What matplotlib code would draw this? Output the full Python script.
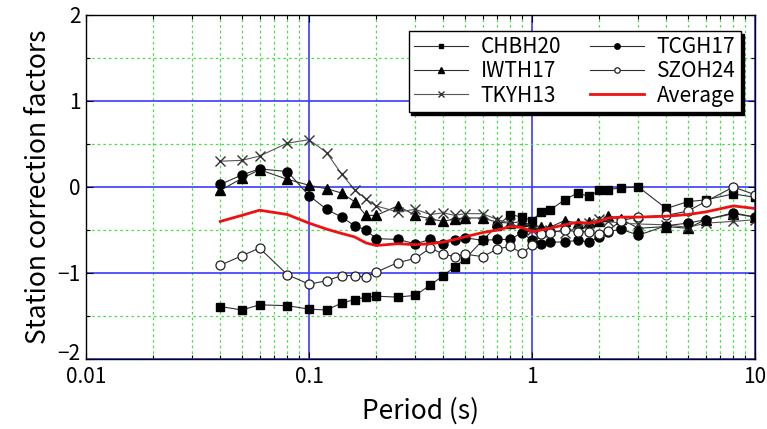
import matplotlib
matplotlib.use("Agg")
import matplotlib.pyplot as plt
import matplotlib.transforms as mtransforms
from matplotlib.ticker import LogLocator, MultipleLocator, FixedLocator, NullFormatter

plt.rcParams['font.family'] = ['Noto Sans CJK JP', 'DejaVu Sans']

periods = [0.04, 0.05, 0.06, 0.08, 0.1, 0.12, 0.14, 0.16, 0.18, 0.2,
           0.25, 0.3, 0.35, 0.4, 0.45, 0.5, 0.6, 0.7, 0.8, 0.9,
           1.0, 1.1, 1.2, 1.4, 1.6, 1.8, 2.0, 2.2, 2.5, 3.0,
           4.0, 5.0, 6.0, 8.0, 10.0]

chbh20 = [-1.39, -1.43, -1.37, -1.38, -1.42, -1.43, -1.35, -1.31, -1.28, -1.27,
          -1.28, -1.26, -1.14, -1.03, -0.93, -0.84, -0.62, -0.45, -0.32, -0.35,
          -0.39, -0.29, -0.27, -0.15, -0.07, -0.11, -0.04, -0.03, -0.01, 0.0,
          -0.25, -0.17, -0.15, -0.08, -0.12]
tcgh17 = [0.03, 0.14, 0.21, 0.18, -0.10, -0.26, -0.35, -0.45, -0.50, -0.60,
          -0.61, -0.66, -0.61, -0.66, -0.62, -0.59, -0.62, -0.61, -0.61, -0.53,
          -0.62, -0.66, -0.64, -0.64, -0.62, -0.64, -0.58, -0.52, -0.49, -0.56,
          -0.45, -0.42, -0.38, -0.30, -0.35]
iwth17 = [-0.04, 0.10, 0.20, 0.09, 0.02, -0.02, -0.07, -0.17, -0.33, -0.33,
          -0.22, -0.33, -0.37, -0.40, -0.37, -0.36, -0.36, -0.41, -0.42, -0.40,
          -0.45, -0.46, -0.47, -0.39, -0.42, -0.41, -0.40, -0.34, -0.37, -0.48,
          -0.46, -0.48, -0.38, -0.31, -0.35]
szoh24 = [-0.91, -0.80, -0.71, -1.02, -1.13, -1.09, -1.03, -1.03, -1.05, -0.99,
          -0.88, -0.83, -0.71, -0.78, -0.81, -0.78, -0.81, -0.72, -0.69, -0.77,
          -0.68, -0.55, -0.53, -0.50, -0.52, -0.52, -0.55, -0.51, -0.39, -0.35,
          -0.33, -0.28, -0.17, 0.0, -0.09]
tkyh13 = [0.30, 0.31, 0.36, 0.51, 0.55, 0.40, 0.15, -0.03, -0.14, -0.22,
          -0.29, -0.26, -0.32, -0.30, -0.33, -0.31, -0.31, -0.38, -0.42, -0.48,
          -0.50, -0.52, -0.50, -0.53, -0.47, -0.42, -0.37, -0.40, -0.42, -0.43,
          -0.44, -0.47, -0.42, -0.40, -0.38]
average = [-0.40, -0.33, -0.27, -0.32, -0.42, -0.49, -0.54, -0.58, -0.65, -0.68,
           -0.66, -0.67, -0.66, -0.64, -0.61, -0.58, -0.53, -0.50, -0.46, -0.47,
           -0.52, -0.50, -0.48, -0.44, -0.41, -0.42, -0.40, -0.36, -0.35, -0.35,
           -0.34, -0.32, -0.29, -0.22, -0.25]

xtick_vals = [0.01, 0.1, 1, 10]
xtick_labels = ['0.01', '0.1', '1', '10']
ytick_vals = [-2, -1, 0, 1, 2]
ytick_labels = ['\u22122', '\u22121', '0', '1', '2']

fig = plt.figure(figsize=(7.67, 4.29), dpi=100)
ax = fig.add_axes([86/767, 1-359/429, (755-86)/767, (359-15)/429])

ax.set_xscale('log')
ax.set_xlim(0.01, 10)
ax.set_ylim(-2, 2)

ax.xaxis.set_major_locator(FixedLocator(xtick_vals))
ax.xaxis.set_minor_locator(LogLocator(base=10, subs=range(2, 10)))
ax.xaxis.set_minor_formatter(NullFormatter())
ax.set_xticklabels(xtick_labels)
ax.yaxis.set_minor_locator(MultipleLocator(0.5))
ax.set_yticks(ytick_vals)
ax.set_yticklabels(ytick_labels)
ax.grid(which='major', color='#3a3aff', linewidth=1.2, linestyle='-')
ax.grid(which='minor', color='#44dd44', linewidth=0.9, linestyle=(0, (2, 2.5)))
ax.set_axisbelow(True)

ax.tick_params(which='both', direction='in', top=True, right=True, labelsize=15, color='k')
ax.tick_params(which='major', length=5, width=0.8)
ax.tick_params(which='minor', length=3, width=0.8)
ax.tick_params(axis='x', which='major', pad=5)
ax.tick_params(axis='y', which='major', pad=4)
for s in ax.spines.values():
    s.set_linewidth(1.0)

# lift the lowest y tick label a little, as in the reference, so it clears "0.01"
lowest = ax.get_yticklabels()[0]
lowest.set_transform(lowest.get_transform() +
                     mtransforms.ScaledTranslation(0, 8/100, fig.dpi_scale_trans))

lw = 0.8
lc = '#303030'
ax.plot(periods, chbh20, color=lc, lw=lw, marker='s', ms=5.5, mfc='k', mec='k', label='CHBH20')
ax.plot(periods, iwth17, color=lc, lw=lw, marker='^', ms=6.5, mfc='k', mec='k', label='IWTH17')
ax.plot(periods, tkyh13, color='#555555', lw=lw, marker='x', ms=6.5, mec='#333333', mew=1.0, label='TKYH13')
ax.plot(periods, tcgh17, color=lc, lw=lw, marker='o', ms=6.5, mfc='k', mec='k', label='TCGH17')
ax.plot(periods, szoh24, color=lc, lw=lw, marker='o', ms=6.5, mfc='white', mec='#222222', mew=0.9, label='SZOH24')
ax.plot(periods, average, color='#ee1111', lw=2.0, label='Average')

ax.set_xlabel('Period (s)', fontsize=19, labelpad=7)
ax.set_ylabel('Station correction factors', fontsize=19, labelpad=4)

leg = ax.legend(loc='upper right', bbox_to_anchor=(0.985, 0.965), ncol=2,
                fontsize=15, frameon=True, fancybox=False, edgecolor='k',
                framealpha=1, handlelength=2.6, markerscale=0.6,
                columnspacing=1.4, handletextpad=0.6, labelspacing=0.1,
                borderpad=0.25, borderaxespad=0.2, shadow={'color': 'k', 'alpha': 1})
leg.get_frame().set_linewidth(1.0)

fig.savefig('out.png', dpi=100)
